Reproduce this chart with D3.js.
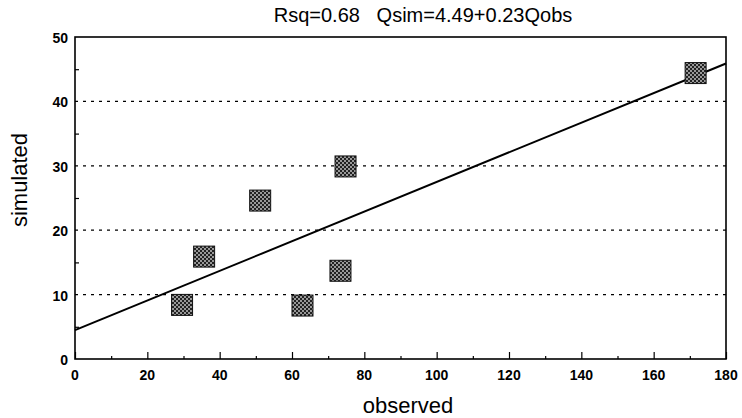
<!DOCTYPE html>
<html lang="en">
<head>
    <meta charset="UTF-8">
    <title>Rsq plot</title>
    <script src="https://cdnjs.cloudflare.com/ajax/libs/d3/7.8.5/d3.min.js"></script>
    <style>
        body { margin: 0; background: #fff; }
        text { font-family: "Liberation Sans", Arial, sans-serif; fill: #000; }
        .tick-label { font-size: 14px; font-weight: bold; }
        .grid { stroke: #000; stroke-width: 1.2; stroke-dasharray: 3,5; }
    </style>
</head>
<body>
<div id="chart"></div>
<script>
    // observed vs simulated values
    const observed  = [29.6, 35.7, 51.2, 62.9, 73.4, 74.8, 171.6];
    const simulated = [8.4, 15.9, 24.6, 8.3, 13.7, 29.9, 44.4];
    const fitIntercept = 4.49;
    const fitSlope = 0.23;
    const xTicks = [0, 20, 40, 60, 80, 100, 120, 140, 160, 180];
    const yTicks = [0, 10, 20, 30, 40, 50];
    const gridLines = [10, 20, 30, 40];

    const width = 742, height = 418;
    const margin = { left: 75, right: 16, top: 37, bottom: 59 };

    const svg = d3.select('#chart').append('svg')
        .attr('width', width)
        .attr('height', height);

    const x = d3.scaleLinear().domain([0, 180]).range([margin.left, width - margin.right]);
    const y = d3.scaleLinear().domain([0, 50]).range([height - margin.bottom, margin.top]);

    // stippled fill for the markers
    const pat = svg.append('defs').append('pattern')
        .attr('id', 'stip')
        .attr('width', 4).attr('height', 4)
        .attr('patternUnits', 'userSpaceOnUse');
    pat.append('rect').attr('width', 4).attr('height', 4).attr('fill', '#222');
    pat.append('rect').attr('x', 0).attr('y', 0).attr('width', 2).attr('height', 2).attr('fill', '#999');
    pat.append('rect').attr('x', 2).attr('y', 2).attr('width', 2).attr('height', 2).attr('fill', '#999');

    // dotted grid
    svg.append('g').selectAll('line')
        .data(gridLines)
        .join('line')
        .attr('class', 'grid')
        .attr('x1', x(0)).attr('x2', x(180))
        .attr('y1', d => y(d)).attr('y2', d => y(d));

    // x axis ticks (inward) and labels
    const xAxis = d3.axisBottom(x).tickValues(d3.range(0, 181, 10)).tickSize(-3).tickFormat('');
    const gx = svg.append('g').attr('transform', `translate(0,${y(0)})`).call(xAxis);
    gx.selectAll('.tick line').attr('y2', d => d % 20 === 0 ? -7 : -3).attr('stroke-width', 1.2);
    gx.select('.domain').remove();
    svg.append('g').selectAll('text')
        .data(xTicks)
        .join('text')
        .attr('class', 'tick-label')
        .attr('x', d => x(d))
        .attr('y', y(0) + 21)
        .attr('text-anchor', 'middle')
        .text(d => d);

    // y axis ticks and labels
    const yAxis = d3.axisLeft(y).tickValues(d3.range(5, 50, 10)).tickSize(-4).tickFormat('');
    const gy = svg.append('g').attr('transform', `translate(${x(0)},0)`).call(yAxis);
    gy.selectAll('.tick line').attr('stroke-width', 1.2);
    gy.select('.domain').remove();
    svg.append('g').selectAll('text')
        .data(yTicks)
        .join('text')
        .attr('class', 'tick-label')
        .attr('x', x(0) - 7)
        .attr('y', d => y(d) + 6)
        .attr('text-anchor', 'end')
        .text(d => d);

    // frame
    svg.append('rect')
        .attr('x', x(0)).attr('y', y(50))
        .attr('width', x(180) - x(0)).attr('height', y(0) - y(50))
        .attr('fill', 'none').attr('stroke', '#000').attr('stroke-width', 1.6);

    // regression line
    svg.append('line')
        .attr('x1', x(0)).attr('y1', y(fitIntercept))
        .attr('x2', x(180)).attr('y2', y(fitIntercept + fitSlope * 180))
        .attr('stroke', '#000').attr('stroke-width', 2);

    // markers
    const s = 21;
    svg.append('g').selectAll('rect')
        .data(observed.map((d, i) => [d, simulated[i]]))
        .join('rect')
        .attr('x', d => x(d[0]) - s / 2)
        .attr('y', d => y(d[1]) - s / 2)
        .attr('width', s).attr('height', s)
        .attr('fill', 'url(#stip)')
        .attr('stroke', '#111').attr('stroke-width', 1);

    // titles
    svg.append('text')
        .attr('x', 423).attr('y', 22)
        .attr('text-anchor', 'middle')
        .style('font-size', '20px')
        .style('white-space', 'pre')
        .text('Rsq=0.68   Qsim=4.49+0.23Qobs');

    svg.append('text')
        .attr('x', 408).attr('y', 413)
        .attr('text-anchor', 'middle')
        .style('font-size', '22px')
        .text('observed');

    svg.append('text')
        .attr('transform', 'translate(27,180) rotate(-90)')
        .attr('text-anchor', 'middle')
        .style('font-size', '22px')
        .text('simulated');
</script>
</body>
</html>
